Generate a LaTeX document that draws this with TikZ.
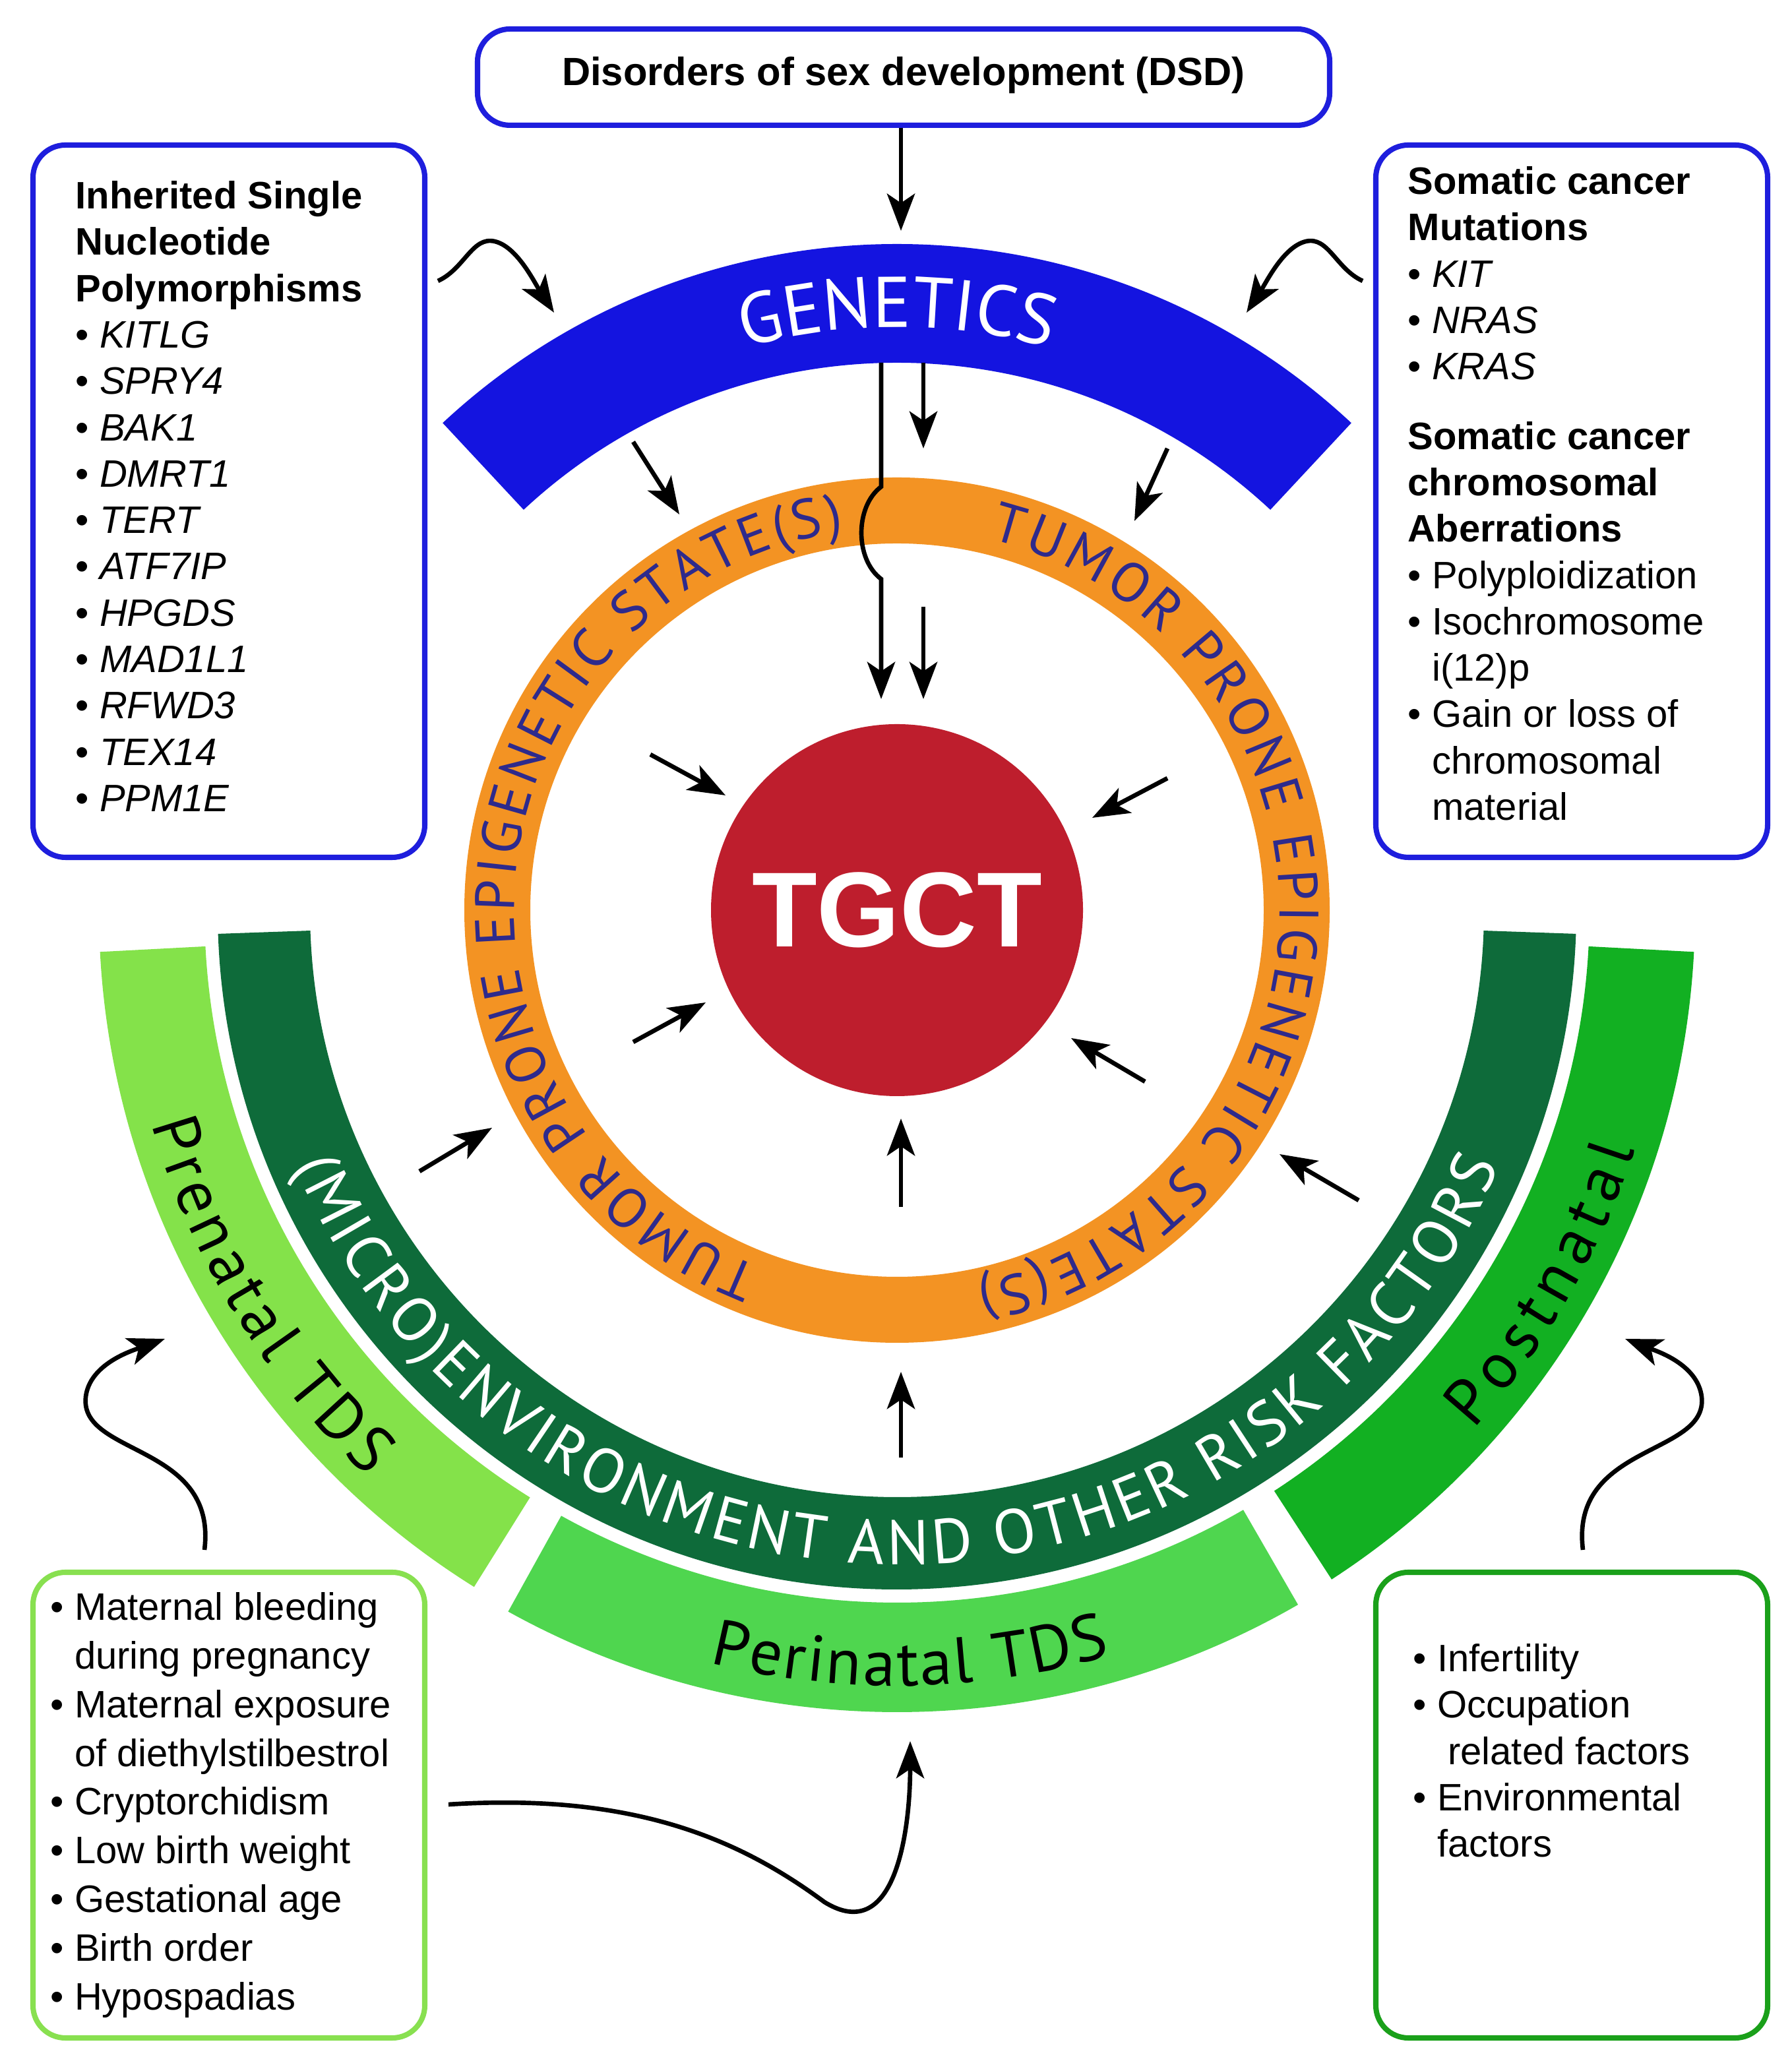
\documentclass[tikz,border=0pt]{standalone}
\usepackage{fontspec}
\setmainfont{Liberation Sans}
\newfontfamily\arcf{PT Sans}
\usetikzlibrary{decorations.text,arrows.meta}
\definecolor{bblue}{HTML}{1E1EDD}
\definecolor{gblue}{HTML}{1414E0}
\definecolor{orng}{HTML}{F39323}
\definecolor{tred}{HTML}{BE1E2D}
\definecolor{dgreen}{HTML}{0E6B3A}
\definecolor{pren}{HTML}{84E24A}
\definecolor{peri}{HTML}{4FD64F}
\definecolor{post}{HTML}{12B022}
\definecolor{purp}{HTML}{2E2A8C}
\definecolor{bgl}{HTML}{88E050}
\definecolor{bgr}{HTML}{1AA01A}
\newcommand\myband[5]{\fill[#1,shift={(680,874)}] (#2:#5) arc[start angle=#2,end angle=#3,radius=#5] -- (#3:#4) arc[start angle=#3,end angle=#2,radius=#4] -- cycle;}
\newcommand\arctext[6]{\path[shift={(680,874)},decorate,decoration={text along path,text align=fit to path,text color=#1,text={|\arcf\fontsize{#5}{#5}\selectfont|#6}}] (#2:#4) arc[start angle=#2,end angle=#3,radius=#4];}
\newcommand\bsp{\phantom{\textbullet\ }}
\begin{document}
\begin{tikzpicture}[x=0.02cm,y=0.02cm,
  box/.style={draw=bblue,line width=2.3pt,rounded corners=14pt},
  arr/.style={line width=1.9pt,-{Stealth[length=16pt,width=12pt,inset=4pt]}},
  txt/.style={anchor=north west,align=left,inner sep=0pt,font=\fontsize{16.5}{20}\selectfont}]
\useasboundingbox (0,0) rectangle (1358,1564);
\fill[white] (0,0) rectangle (1358,1564);
% bands
\myband{gblue}{47}{133}{415}{505}
\myband{dgreen}{182}{358}{445}{515}
\myband{pren}{183}{238}{525}{605}
\myband{peri}{241}{300}{525}{608}
\myband{post}{303}{357}{525}{605}
\fill[orng,even odd rule] (680,874) circle[radius=328] (680,874) circle[radius=278];
\node[circle,fill=tred,minimum size=282*0.02cm,inner sep=0pt,text=white,font=\bfseries\fontsize{46}{46}\selectfont] (tgct) at (680,874) {TGCT};
% arc texts
\path[shift={(680,874)},decorate,decoration={text along path,text align=center,text color=white,text={|\arcf\fontsize{31}{31}\selectfont|GENETICS}}] (115:442) arc[start angle=115,end angle=65,radius=442];
\arctext{purp}{249}{98}{290}{24}{TUMOR PRONE EPIGENETIC STATE(S)}
\arctext{purp}{76}{-78}{290}{24}{TUMOR PRONE EPIGENETIC STATE(S)}
\arctext{white}{203}{337}{496}{27}{(MICRO)ENVIRONMENT AND OTHER RISK FACTORS}
\arctext{black}{196}{227}{588}{28}{Prenatal TDS}
\arctext{black}{256}{286}{588}{28}{Perinatal TDS}
\arctext{black}{318}{342}{588}{28}{Postnatal}
% boxes
\draw[box] (362,1469) rectangle (1008,1542);
\node[font=\bfseries\fontsize{17}{20}\selectfont] (dsd) at (685,1507) {Disorders of sex development (DSD)};
\draw[box] (25,914) rectangle (322,1454);
\draw[box] (1043,914) rectangle (1340,1454);
\draw[box,draw=bgl] (25,19) rectangle (322,372);
\draw[box,draw=bgr] (1043,19) rectangle (1340,372);
\node[txt] (snp) at (57,1427) {\textbf{Inherited Single}\\\textbf{Nucleotide}\\\textbf{Polymorphisms}\\
\textbullet\ \textit{KITLG}\\\textbullet\ \textit{SPRY4}\\\textbullet\ \textit{BAK1}\\\textbullet\ \textit{DMRT1}\\
\textbullet\ \textit{TERT}\\\textbullet\ \textit{ATF7IP}\\\textbullet\ \textit{HPGDS}\\\textbullet\ \textit{MAD1L1}\\
\textbullet\ \textit{RFWD3}\\\textbullet\ \textit{TEX14}\\\textbullet\ \textit{PPM1E}};
\node[txt] (som) at (1067,1438) {\textbf{Somatic cancer}\\\textbf{Mutations}\\
\textbullet\ \textit{KIT}\\\textbullet\ \textit{NRAS}\\\textbullet\ \textit{KRAS}\\[10pt]
\textbf{Somatic cancer}\\\textbf{chromosomal}\\\textbf{Aberrations}\\
\textbullet\ Polyploidization\\\textbullet\ Isochromosome\\\bsp i(12)p\\\textbullet\ Gain or loss of\\\bsp chromosomal\\\bsp material};
\node[txt,font=\fontsize{16.5}{21}\selectfont] (pre) at (38,357) {\textbullet\ Maternal bleeding\\\bsp during pregnancy\\\textbullet\ Maternal exposure\\\bsp of diethylstilbestrol\\
\textbullet\ Cryptorchidism\\\textbullet\ Low birth weight\\\textbullet\ Gestational age\\\textbullet\ Birth order\\\textbullet\ Hypospadias};
\node[txt,font=\fontsize{16.5}{20}\selectfont] (pos) at (1071,318) {\textbullet\ Infertility\\\textbullet\ Occupation\\\bsp\ related factors\\\textbullet\ Environmental\\\bsp factors};
% arrows
\coordinate (a1) at (683,1467); \coordinate (a2) at (683,1389);
\draw[arr] (a1) -- (a2);
\coordinate (g1) at (700,1289); \coordinate (g1e) at (700,1224); \draw[arr] (g1) -- (g1e);
\coordinate (g2) at (480,1229); \coordinate (g2e) at (515,1174); \draw[arr] (g2) -- (g2e);
\coordinate (g3) at (885,1224); \coordinate (g3e) at (860,1169); \draw[arr] (g3) -- (g3e);
\coordinate (l1) at (668,1289); \coordinate (l2) at (668,1195); \coordinate (l3) at (668,1125); \coordinate (l4) at (668,1034);
\draw[arr] (l1) -- (l2) .. controls (648,1180) and (648,1140) .. (l3) -- (l4);
\coordinate (g4) at (700,1104); \coordinate (g4e) at (700,1034); \draw[arr] (g4) -- (g4e);
\foreach \s/\e in {{(493,992)}/{(550,961)},{(480,774)}/{(535,804)},{(885,974)}/{(828,944)},{(868,744)}/{(812,777)},{(683,649)}/{(683,716)},{(318,676)}/{(373,709)},{(1030,654)}/{(970,689)},{(683,459)}/{(683,524)}}
  \draw[arr] \s -- \e;
\draw[arr] (332,1351) .. controls (352,1360) and (358,1385) .. (375,1381) .. controls (392,1377) and (405,1350) .. (420,1327);
\draw[arr] (1033,1351) .. controls (1013,1360) and (1007,1385) .. (990,1381) .. controls (973,1377) and (960,1350) .. (945,1327);
\draw[arr] (155,389) .. controls (165,470) and (60,460) .. (65,505) .. controls (68,530) and (100,540) .. (125,549);
\draw[arr] (1200,389) .. controls (1190,470) and (1295,460) .. (1290,505) .. controls (1287,530) and (1255,540) .. (1232,549);
\draw[arr] (340,196) .. controls (480,205) and (560,170) .. (625,122) .. controls (680,88) and (690,180) .. (690,244);
\end{tikzpicture}
\end{document}
